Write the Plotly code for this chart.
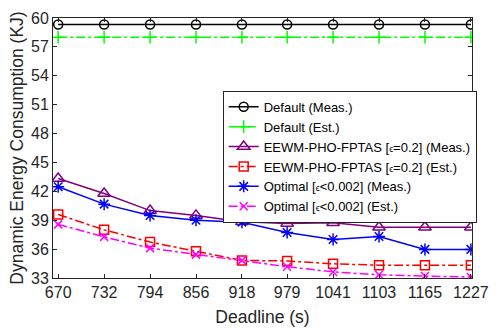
import plotly.graph_objects as go

deadlines = [670, 732, 794, 856, 918, 979, 1041, 1103, 1165, 1227]
default_meas = [59.33] * 10
default_est = [58.0] * 10
eewm_meas = [43.33, 41.77, 40.0, 39.5, 38.83, 38.67, 38.73, 38.27, 38.27, 38.27]
eewm_est = [39.6, 38.0, 36.73, 35.77, 34.83, 34.77, 34.47, 34.33, 34.33, 34.33]
opt_meas = [42.47, 40.67, 39.5, 39.0, 38.8, 37.73, 37.0, 37.3, 35.97, 35.97]
opt_est = [38.57, 37.27, 36.1, 35.43, 34.83, 34.17, 33.63, 33.33, 33.2, 33.1]
y_ticks = [33, 36, 39, 42, 45, 48, 51, 54, 57, 60]

eps = "<span style='font-size:9px'>ϵ</span>"
series = [
    ("Default (Meas.)", default_meas, "black", "solid", "circle-open", 9),
    ("Default (Est.)", default_est, "#00ff00", "dashdot", "cross-thin-open", 9),
    (f"EEWM-PHO-FPTAS [{eps}=0.2] (Meas.)", eewm_meas, "#800080", "solid", "triangle-up-open", 11),
    (f"EEWM-PHO-FPTAS [{eps}=0.2] (Est.)", eewm_est, "#ff0000", "dashdot", "square-open", 9),
    (f"Optimal [{eps}<0.002] (Meas.)", opt_meas, "#0000ff", "solid", "asterisk-open", 10),
    (f"Optimal [{eps}<0.002] (Est.)", opt_est, "#ff00ff", "dashdot", "x-thin-open", 8),
]

fig = go.Figure()
for name, ys, col, dash, sym, sz in series:
    fig.add_trace(go.Scatter(
        x=deadlines, y=ys, name=name, mode="lines+markers",
        line=dict(color=col, width=1.5, dash=dash),
        marker=dict(symbol=sym, size=sz, color=col, line=dict(color=col, width=1.5)),
    ))

axis_common = dict(
    showline=True, linecolor="#262626", linewidth=1, mirror="ticks",
    ticks="inside", ticklen=4, tickcolor="#262626", showgrid=False, zeroline=False,
    tickfont=dict(size=16, color="#262626"), ticklabeloverflow="allow",
)
fig.update_xaxes(
    range=[663, 1228.5], tickmode="array", tickvals=deadlines,
    ticktext=[str(d) for d in deadlines],
    title=dict(text="Deadline (s)", font=dict(size=17.5, color="#262626"), standoff=10),
    **axis_common,
)
fig.update_yaxes(
    range=[33, 60], tickmode="array", tickvals=y_ticks,
    title=dict(text="Dynamic Energy Consumption (KJ)", font=dict(size=17.5, color="#262626"), standoff=2),
    **axis_common,
)
fig.update_layout(
    width=499, height=333,
    margin=dict(l=53, r=16, t=10, b=53),
    paper_bgcolor="white", plot_bgcolor="white",
    font=dict(family="Liberation Sans, Arial, sans-serif", color="#262626"),
    legend=dict(
        x=0.405, y=0.72, xanchor="left", yanchor="top",
        bgcolor="white", bordercolor="#262626", borderwidth=1,
        font=dict(size=13, color="#000000"), itemwidth=30, tracegroupgap=0,
        traceorder="normal",
    ),
)
fig.write_html("out.html")
